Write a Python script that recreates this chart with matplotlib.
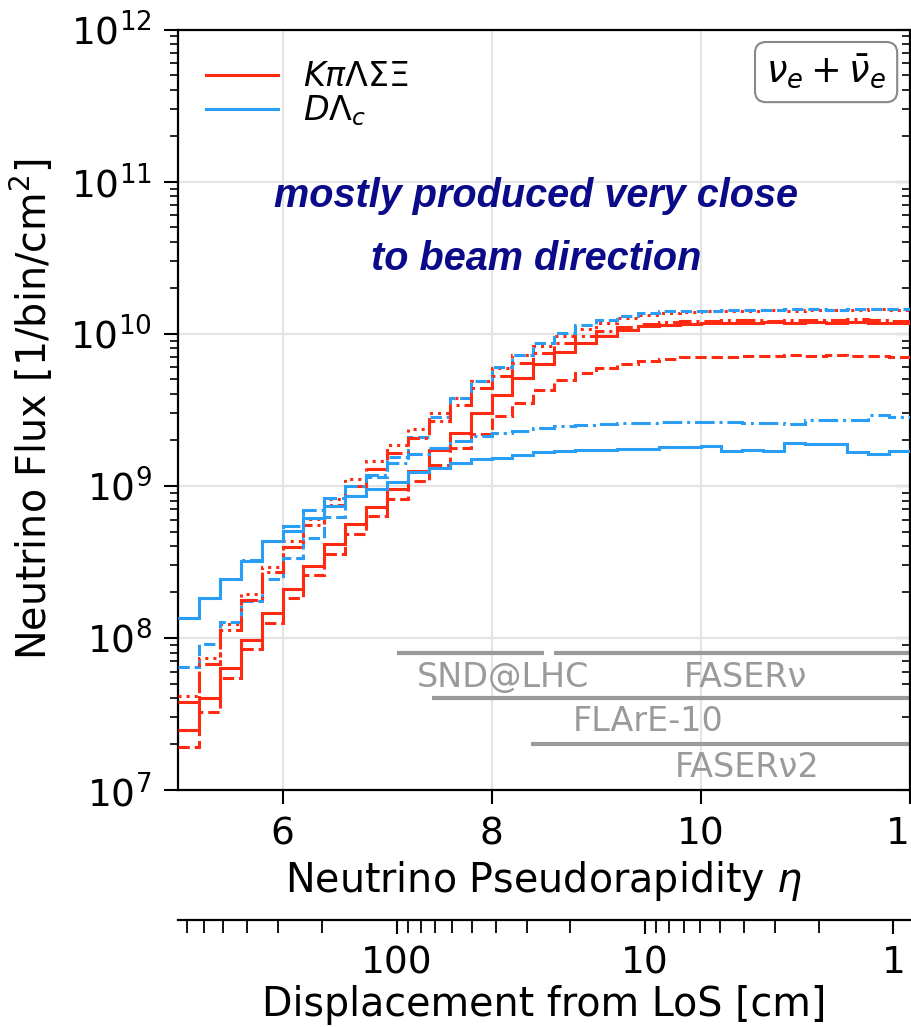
import numpy as np
import matplotlib
matplotlib.use("Agg")
import matplotlib.pyplot as plt
from matplotlib.lines import Line2D

# ---------------- data ----------------
# eta bin edges (35 bins of width 0.2 between 5 and 12)
eta_edges = np.round(np.linspace(5.0, 12.0, 36), 2)

# log10 of flux per bin [1/bin/cm^2]
light_solid = [7.395, 7.603, 7.805, 7.986, 8.166, 8.319, 8.472, 8.615, 8.746, 8.862,
               8.976, 9.100, 9.238, 9.348, 9.479, 9.600, 9.709, 9.800, 9.878, 9.939,
               9.982, 10.026, 10.048, 10.059, 10.065, 10.070, 10.072, 10.070, 10.074, 10.072,
               10.075, 10.072, 10.074, 10.070, 10.068]
light_dashed = [7.280, 7.514, 7.739, 7.925, 8.100, 8.265, 8.411, 8.549, 8.680, 8.800,
                8.910, 9.030, 9.140, 9.249, 9.340, 9.457, 9.545, 9.627, 9.698, 9.742,
                9.775, 9.803, 9.818, 9.834, 9.845, 9.848, 9.850, 9.853, 9.855, 9.858,
                9.856, 9.858, 9.855, 9.852, 9.848]
light_dotted = [7.618, 7.866, 8.094, 8.291, 8.468, 8.636, 8.780, 8.910, 9.046, 9.162,
                9.271, 9.374, 9.479, 9.578, 9.687, 9.775, 9.862, 9.917, 9.982, 10.030,
                10.070, 10.100, 10.120, 10.135, 10.142, 10.148, 10.150, 10.152, 10.155, 10.150,
                10.156, 10.158, 10.155, 10.160, 10.158]
light_dashdot = [7.580, 7.830, 8.050, 8.250, 8.430, 8.600, 8.745, 8.877, 9.000, 9.110,
                 9.217, 9.315, 9.424, 9.534, 9.643, 9.720, 9.807, 9.873, 9.939, 9.985,
                 10.020, 10.045, 10.062, 10.075, 10.082, 10.085, 10.088, 10.090, 10.086, 10.092,
                 10.088, 10.090, 10.094, 10.088, 10.085]
charm_solid = [8.129, 8.265, 8.385, 8.505, 8.636, 8.700, 8.790, 8.870, 8.932, 8.976,
               9.024, 9.090, 9.118, 9.148, 9.173, 9.184, 9.200, 9.221, 9.227, 9.234,
               9.238, 9.245, 9.245, 9.254, 9.254, 9.260, 9.227, 9.238, 9.227, 9.282,
               9.275, 9.275, 9.221, 9.206, 9.227]
charm_dashed = [7.811, 7.958, 8.107, 8.240, 8.385, 8.527, 8.659, 8.796, 8.930, 9.060,
                9.190, 9.320, 9.450, 9.578, 9.690, 9.780, 9.862, 9.939, 10.004, 10.059,
                10.092, 10.114, 10.136, 10.146, 10.150, 10.152, 10.155, 10.158, 10.156, 10.160,
                10.162, 10.158, 10.160, 10.165, 10.162]
charm_dashdot = [8.129, 8.265, 8.390, 8.510, 8.636, 8.735, 8.844, 8.920, 9.000, 9.070,
                 9.151, 9.206, 9.250, 9.293, 9.326, 9.348, 9.359, 9.381, 9.396, 9.400,
                 9.409, 9.412, 9.415, 9.418, 9.420, 9.418, 9.420, 9.412, 9.412, 9.409,
                 9.435, 9.435, 9.435, 9.468, 9.453]

legend_labels = [r"$K\pi\Lambda\Sigma\Xi$", r"$D\Lambda_c$"]
flavor_label = r"$\nu_e + \bar{\nu}_e$"

# detector coverage: name, eta_min, eta_max, line level, label eta, label level
detectors = ["SND@LHC", "FASERν", "FLArE-10", "FASERν2"]
det_eta_min = [7.10, 8.60, 7.43, 8.38]
det_eta_max = [8.50, 12.0, 12.0, 12.0]
det_level = [8e7, 8e7, 4e7, 2e7]
det_label_eta = [8.11, 10.43, 9.50, 10.45]
det_label_level = [5.5e7, 5.5e7, 2.83e7, 1.41e7]

# displacement from line of sight: d = LOS_SCALE * exp(-LOS_SLOPE * eta) [cm]
LOS_SCALE = 9.665e4
LOS_SLOPE = 0.969
disp_major = [100, 10, 1]
disp_minor = [800, 700, 600, 500, 400, 300, 200, 90, 80, 70, 60, 50, 40, 30, 20,
              9, 8, 7, 6, 5, 4, 3, 2]

# ---------------- plot ----------------
RED = "#ff2a12"
BLUE = "#2a9df4"
TICK_FS = 27
LABEL_FS = 28.5

fig = plt.figure(figsize=(9.11, 10.27), dpi=100)
ax = fig.add_axes([178 / 911, 1 - 790 / 1027, (909.5 - 178) / 911, (790 - 29.5) / 1027])

lw = 2.2
curves = [
    (light_dotted, RED, ":"),
    (charm_dashed, BLUE, "--"),
    (light_dashdot, RED, "-."),
    (light_solid, RED, "-"),
    (light_dashed, RED, "--"),
    (charm_dashdot, BLUE, "-."),
    (charm_solid, BLUE, "-"),
]
for vals, col, ls in curves:
    ax.stairs(10.0 ** np.array(vals), eta_edges, baseline=None, color=col,
              linestyle=ls, linewidth=lw, zorder=3)

ax.set_yscale("log")
ax.set_xlim(5, 12)
ax.set_ylim(1e7, 1e12)
ax.set_xticks([6, 8, 10, 12])
ax.grid(True, which="major", color="#e4e4e4", linewidth=1.5, zorder=0)
ax.set_axisbelow(True)

for sp in ax.spines.values():
    sp.set_linewidth(1.6)
ax.tick_params(axis="both", which="major", direction="out", length=10, width=1.5,
               labelsize=TICK_FS, pad=9)
ax.tick_params(axis="y", which="minor", direction="out", length=5.5, width=1.2)
ax.set_xlabel(r"Neutrino Pseudorapidity $\eta$", fontsize=LABEL_FS, labelpad=5)
ax.set_ylabel(r"Neutrino Flux [1/bin/cm$^2$]", fontsize=LABEL_FS, labelpad=10)

# right-hand ticks pointing inwards
ry = ax.secondary_yaxis("right")
ry.tick_params(axis="y", which="major", direction="in", length=10, width=1.5,
               labelright=False)
ry.tick_params(axis="y", which="minor", direction="in", length=5.5, width=1.2)

# detector coverage lines and labels
for name, e0, e1, lev, le, ll in zip(detectors, det_eta_min, det_eta_max, det_level,
                                     det_label_eta, det_label_level):
    ax.hlines(lev, e0, e1, color="#9a9a9a", linewidth=3, zorder=2)
    ax.text(le, ll, name, color="#9a9a9a", fontsize=24, ha="center", va="center",
            zorder=2)

# annotation text
ax.text(0.490, 0.781, "mostly produced very close", transform=ax.transAxes,
        ha="center", va="center", fontsize=28.5, color="#0b0b8a",
        family="Liberation Sans", weight="bold", style="italic")
ax.text(0.490, 0.698, "to beam direction", transform=ax.transAxes,
        ha="center", va="center", fontsize=28.5, color="#0b0b8a",
        family="Liberation Sans", weight="bold", style="italic")

# flavor box
ax.text(0.886, 0.944, flavor_label, transform=ax.transAxes, ha="center", va="center",
        fontsize=26.5,
        bbox=dict(boxstyle="round,pad=0.3", fc="white", ec="#888888", lw=1.5))

# legend
handles = [Line2D([], [], color=RED, lw=lw), Line2D([], [], color=BLUE, lw=lw)]
ax.legend(handles, legend_labels, loc="upper left", bbox_to_anchor=(0.02, 0.977),
          frameon=False, fontsize=24, handlelength=2.15, handletextpad=0.75,
          labelspacing=0.0, borderaxespad=0.0)

# secondary axis: displacement from line of sight
def eta_to_disp(e):
    return LOS_SCALE * np.exp(-LOS_SLOPE * np.asarray(e, dtype=float))

def disp_to_eta(d):
    d = np.clip(np.asarray(d, dtype=float), 1e-12, None)
    return np.log(LOS_SCALE / d) / LOS_SLOPE

sec = ax.secondary_xaxis(-0.171, functions=(eta_to_disp, disp_to_eta))
sec.set_xticks(disp_major, labels=[str(v) for v in disp_major])
sec.set_xticks(disp_minor, minor=True)
sec.tick_params(axis="x", which="major", direction="out", length=10, width=1.5,
                labelsize=TICK_FS, pad=8)
sec.tick_params(axis="x", which="minor", direction="out", length=9, width=1.3)
sec.spines["bottom"].set_linewidth(1.6)
sec.set_xlabel("Displacement from LoS [cm]", fontsize=LABEL_FS, labelpad=2.5)

fig.savefig("out.png", dpi=100)
